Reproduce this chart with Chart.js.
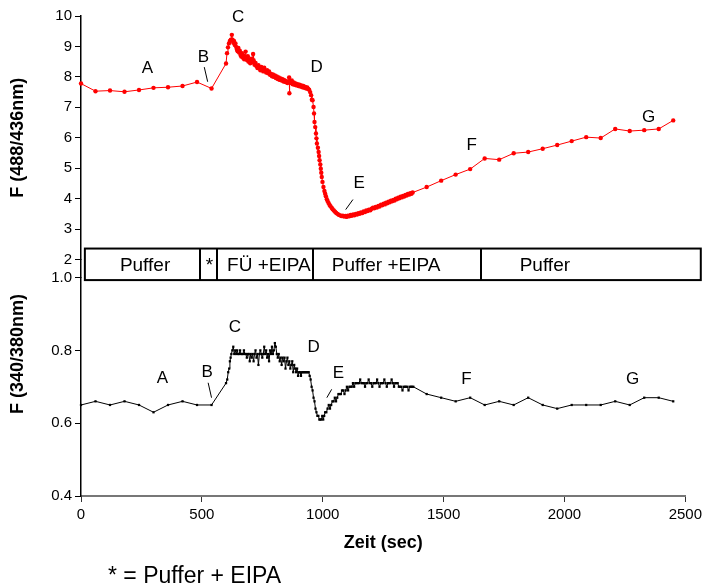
<!DOCTYPE html>
<html>
<head>
<meta charset="utf-8">
<script src="https://cdn.jsdelivr.net/npm/chart.js@4/dist/chart.umd.min.js"></script>
<style>
  body { margin: 0; background: #fff; }
  #wrap { position: relative; width: 706px; height: 588px; }
  #note { position: absolute; left: 108px; top: 564px; font: 23px/23px "Liberation Sans", Arial, sans-serif; color: #000; white-space: nowrap; }
</style>
</head>
<body>
<div id="wrap">
  <canvas id="c" width="706" height="588"></canvas>
  <div id="note">* = Puffer + EIPA</div>
</div>
<script>
// F 488/436 (red, top panel)
const topTime = [
  0,60,120,180,240,300,360,420,480,540,
  600,604,608,612,616,620,624,
  627,630,633,636,639,642,645,648,651,654,
  657,660,663,666,669,672,675,678,681,684,
  687,690,693,696,700,704,708,712,714,718,
  722,726,730,734,738,742,746,750,754,758,
  762,766,770,774,778,782,786,790,794,798,
  802,806,810,814,818,822,826,830,834,838,
  842,846,850,854,858,861,862,864,868,872,
  876,880,884,888,892,896,900,904,908,912,
  916,920,924,928,932,936,940,944,948,952,
  955,958,962,964,966,969,972,974,976,980,
  983,985,987,990,992,994,996,999,1003,1007,
  1010,1013,1017,1020,1024,1028,1032,1037,1041,1046,
  1051,1056,1061,1066,1072,1077,1083,1088,1094,1099,
  1104,1110,1115,1120,1126,1131,1137,1142,1147,1153,
  1158,1164,1169,1175,1180,1186,1191,1197,1202,1208,
  1213,1219,1224,1230,1235,1241,1246,1252,1257,1262,
  1267,1272,1277,1282,1287,1292,1297,1302,1307,1312,
  1317,1322,1327,1332,1337,1342,1347,1352,1357,1362,
  1367,1372,1430,1490,1550,1610,1670,1730,1790,1850,
  1910,1970,2030,2090,2150,2210,2270,2330,2390,2450
];
const topRatio = [
  7.78,7.53,7.55,7.51,7.57,7.64,7.66,7.70,7.83,7.62,
  8.44,8.78,8.97,9.10,9.18,9.22,9.38,
  9.22,9.12,9.18,9.05,9.10,8.98,8.90,8.84,8.95,8.80,
  8.86,8.72,8.67,8.78,8.64,8.70,8.58,8.66,8.83,8.62,
  8.55,8.68,8.50,8.57,8.45,8.60,8.48,8.75,8.55,8.40,
  8.46,8.35,8.29,8.38,8.30,8.22,8.33,8.25,8.18,8.30,
  8.20,8.14,8.22,8.12,8.18,8.07,8.10,8.02,8.08,8.00,
  8.05,7.96,8.01,7.93,7.98,7.90,7.95,7.88,7.92,7.85,
  7.89,7.83,7.86,7.80,7.84,7.98,7.46,7.85,7.80,7.88,
  7.76,7.82,7.74,7.78,7.72,7.76,7.70,7.74,7.68,7.72,
  7.66,7.70,7.64,7.67,7.62,7.65,7.60,7.58,7.50,7.40,
  7.25,7.23,7.01,6.80,6.52,6.35,6.14,5.98,5.81,5.67,
  5.53,5.40,5.26,5.12,4.98,4.85,4.71,4.55,4.38,4.25,
  4.16,4.08,3.98,3.92,3.86,3.80,3.75,3.70,3.65,3.61,
  3.57,3.53,3.50,3.47,3.45,3.43,3.44,3.41,3.43,3.40,
  3.44,3.42,3.46,3.44,3.48,3.45,3.50,3.48,3.52,3.50,
  3.55,3.53,3.58,3.56,3.61,3.59,3.64,3.62,3.67,3.70,
  3.68,3.73,3.71,3.76,3.74,3.80,3.78,3.83,3.81,3.87,
  3.85,3.90,3.88,3.93,3.91,3.96,3.94,4.00,3.98,4.03,
  4.01,4.06,4.04,4.09,4.07,4.12,4.10,4.15,4.13,4.18,
  4.16,4.20,4.38,4.59,4.79,4.97,5.32,5.28,5.49,5.53,
  5.64,5.76,5.89,6.02,5.99,6.29,6.22,6.25,6.29,6.57
];

// F 340/380 (black, bottom panel)
const botTime = [
  0,60,120,180,240,300,360,420,480,540,
  600,605,609,613,616,619,622,626,630,634,
  638,642,646,650,654,658,662,666,670,674,
  678,682,686,690,694,698,702,706,710,714,
  718,722,726,730,734,738,742,746,750,754,
  758,762,766,770,774,778,782,786,790,794,
  798,802,806,810,814,818,822,826,830,834,
  838,842,846,850,854,858,862,866,870,874,
  878,882,886,890,894,898,902,906,910,914,
  918,922,926,930,934,938,942,946,950,954,
  958,962,966,970,974,978,982,986,990,994,
  998,1002,1006,1010,1015,1020,1025,1030,1035,1040,
  1045,1050,1055,1060,1065,1070,1075,1080,1085,1090,
  1095,1100,1105,1110,1115,1120,1125,1130,1135,1140,
  1145,1150,1155,1160,1165,1170,1175,1180,1185,1190,
  1195,1200,1205,1210,1215,1220,1225,1230,1235,1240,
  1245,1250,1255,1260,1265,1270,1275,1280,1285,1290,
  1295,1300,1305,1310,1315,1320,1325,1330,1335,1340,
  1345,1350,1355,1360,1365,1370,1375,1430,1490,1550,
  1610,1670,1730,1790,1850,1910,1970,2030,2090,2150,
  2210,2270,2330,2390,2450
];
const botRatio = [
  0.65,0.66,0.65,0.66,0.65,0.63,0.65,0.66,0.65,0.65,
  0.71,0.72,0.74,0.75,0.77,0.78,0.79,0.80,0.81,0.79,
  0.80,0.79,0.80,0.79,0.79,0.80,0.79,0.79,0.79,0.80,
  0.79,0.79,0.78,0.79,0.79,0.77,0.79,0.78,0.79,0.77,
  0.79,0.80,0.78,0.79,0.76,0.79,0.80,0.79,0.78,0.79,
  0.81,0.79,0.80,0.78,0.79,0.77,0.80,0.79,0.81,0.79,
  0.80,0.82,0.81,0.79,0.78,0.79,0.77,0.78,0.76,0.78,
  0.77,0.78,0.75,0.77,0.78,0.76,0.77,0.75,0.76,0.77,
  0.74,0.76,0.75,0.74,0.75,0.73,0.74,0.74,0.73,0.74,
  0.74,0.74,0.74,0.74,0.74,0.74,0.74,0.73,0.72,0.70,
  0.69,0.67,0.66,0.64,0.63,0.62,0.62,0.61,0.61,0.61,
  0.62,0.61,0.62,0.63,0.63,0.64,0.65,0.64,0.65,0.66,
  0.66,0.67,0.66,0.67,0.68,0.68,0.68,0.69,0.69,0.68,
  0.69,0.70,0.69,0.70,0.70,0.70,0.71,0.70,0.71,0.71,
  0.71,0.71,0.72,0.71,0.71,0.71,0.70,0.71,0.71,0.72,
  0.71,0.71,0.70,0.71,0.71,0.71,0.72,0.71,0.70,0.71,
  0.71,0.71,0.72,0.71,0.70,0.71,0.71,0.71,0.72,0.71,
  0.70,0.71,0.71,0.71,0.70,0.70,0.70,0.69,0.70,0.70,
  0.70,0.70,0.69,0.70,0.70,0.70,0.70,0.68,0.67,0.66,
  0.67,0.65,0.66,0.65,0.67,0.65,0.64,0.65,0.65,0.65,
  0.66,0.65,0.67,0.67,0.66
];

// solution phases (sec) shown in the band between the panels
const phaseEdges = [16, 492, 564, 959, 1654, 2564];
const phaseNames = ['Puffer', '*', 'FÜ +EIPA', 'Puffer +EIPA', 'Puffer'];
const phaseTextAt = [265, 531, 777, 1262, 1919];

// letter marks: [letter, sec, value]
const topLetters = [['A',275,8.29],['B',506,8.65],['C',650,9.97],['D',975,8.32],['E',1151,4.50],['F',1616,5.75],['G',2348,6.67]];
const botLetters = [['A',337,0.724],['B',522,0.741],['C',637,0.864],['D',962,0.809],['E',1065,0.738],['F',1595,0.721],['G',2282,0.721]];
// leader lines [sec1, v1, sec2, v2]
const topLeaders = [[510,8.32,524,7.84],[1125,3.97,1095,3.64]];
const botLeaders = [[526,0.711,540,0.670],[1037,0.693,1017,0.670]];

const FONT = '"Liberation Sans", Arial, sans-serif';
Chart.defaults.font.family = FONT;
Chart.defaults.color = '#000';

const toXY = (ts, vs) => ts.map((t, i) => ({x: t, y: vs[i]}));

const overlay = {
  id: 'overlay',
  afterDatasetsDraw(chart) {
    const {ctx} = chart;
    const x = chart.scales.x, yT = chart.scales.yTop, yB = chart.scales.yBot;
    ctx.save();
    // phase band
    const bTop = yT.getPixelForValue(2.36), bBot = yB.getPixelForValue(0.993);
    ctx.strokeStyle = '#000';
    ctx.lineWidth = 2;
    ctx.fillStyle = '#fff';
    const x0 = x.getPixelForValue(phaseEdges[0]), x1 = x.getPixelForValue(phaseEdges[phaseEdges.length - 1]);
    ctx.fillRect(x0, bTop, x1 - x0, bBot - bTop);
    ctx.strokeRect(x0, bTop, x1 - x0, bBot - bTop);
    ctx.beginPath();
    for (let i = 1; i < phaseEdges.length - 1; i++) {
      const px = Math.round(x.getPixelForValue(phaseEdges[i]));
      ctx.moveTo(px, bTop); ctx.lineTo(px, bBot);
    }
    ctx.stroke();
    ctx.fillStyle = '#000';
    ctx.font = '19px ' + FONT;
    ctx.textAlign = 'center';
    ctx.textBaseline = 'middle';
    phaseNames.forEach((n, i) => ctx.fillText(n, x.getPixelForValue(phaseTextAt[i]), (bTop + bBot) / 2 + 1));

    // letters
    ctx.font = '17px ' + FONT;
    topLetters.forEach(([l, t, v]) => ctx.fillText(l, x.getPixelForValue(t), yT.getPixelForValue(v)));
    botLetters.forEach(([l, t, v]) => ctx.fillText(l, x.getPixelForValue(t), yB.getPixelForValue(v)));
    ctx.lineWidth = 1;
    ctx.beginPath();
    topLeaders.forEach(([a, b, c, d]) => { ctx.moveTo(x.getPixelForValue(a), yT.getPixelForValue(b)); ctx.lineTo(x.getPixelForValue(c), yT.getPixelForValue(d)); });
    botLeaders.forEach(([a, b, c, d]) => { ctx.moveTo(x.getPixelForValue(a), yB.getPixelForValue(b)); ctx.lineTo(x.getPixelForValue(c), yB.getPixelForValue(d)); });
    ctx.stroke();

    // y axis titles
    ctx.font = 'bold 18px ' + FONT;
    ctx.translate(18, (yT.top + yT.bottom) / 2);
    ctx.rotate(-Math.PI / 2);
    ctx.fillText('F (488/436nm)', 0, 0);
    ctx.rotate(Math.PI / 2);
    ctx.translate(0, yB.getPixelForValue(0.79) - (yT.top + yT.bottom) / 2);
    ctx.rotate(-Math.PI / 2);
    ctx.fillText('F (340/380nm)', 0, 0);
    ctx.restore();
  }
};

const yFit = s => { s.width = 81; };
const yTicks = {color: '#000', font: {size: 15}, padding: 3, autoSkip: false};
const yGrid = {display: true, drawOnChartArea: false, drawTicks: true, tickLength: 6, color: '#000', lineWidth: 1};
const yBorder = {display: true, color: '#000', width: 1.5};

new Chart(document.getElementById('c'), {
  type: 'line',
  data: {
    datasets: [{
      data: toXY(topTime, topRatio),
      yAxisID: 'yTop',
      borderColor: '#ff0000',
      backgroundColor: '#ff0000',
      borderWidth: 1,
      pointRadius: 2.2,
      pointBorderWidth: 0,
      clip: false
    }, {
      data: toXY(botTime, botRatio),
      yAxisID: 'yBot',
      borderColor: '#000',
      backgroundColor: '#000',
      borderWidth: 1,
      pointStyle: 'rect',
      pointRadius: 1.6,
      pointBorderWidth: 0,
      clip: false
    }]
  },
  options: {
    responsive: false,
    animation: false,
    devicePixelRatio: 1,
    layout: {padding: {top: 16, right: 18, bottom: 0, left: 0}},
    plugins: {legend: {display: false}, tooltip: {enabled: false}},
    scales: {
      x: {
        type: 'linear',
        min: 0, max: 2500,
        afterFit: s => { s.height = 92; },
        ticks: {stepSize: 500, color: '#000', font: {size: 15}, padding: 4, maxRotation: 0, callback: v => String(v)},
        grid: {display: true, drawOnChartArea: false, drawTicks: true, tickLength: 6, color: '#333'},
        border: {display: true, color: '#777', width: 2},
        title: {display: true, text: 'Zeit (sec)', font: {size: 18, weight: 'bold'}, padding: {top: 0, bottom: 34}}
      },
      yBot: {
        type: 'linear', position: 'left', stack: 'y', stackWeight: 218,
        min: 0.4, max: 1.0,
        afterFit: yFit,
        ticks: Object.assign({stepSize: 0.2, callback: v => v.toFixed(1)}, yTicks),
        grid: yGrid, border: yBorder
      },
      yGap: {
        type: 'linear', position: 'left', stack: 'y', stackWeight: 18,
        min: 0, max: 1,
        afterFit: yFit,
        ticks: {display: false},
        grid: {display: false}, border: yBorder
      },
      yTop: {
        type: 'linear', position: 'left', stack: 'y', stackWeight: 243,
        min: 2, max: 10,
        afterFit: yFit,
        ticks: Object.assign({stepSize: 1}, yTicks),
        grid: yGrid, border: yBorder
      }
    }
  },
  plugins: [overlay]
});
</script>
</body>
</html>
